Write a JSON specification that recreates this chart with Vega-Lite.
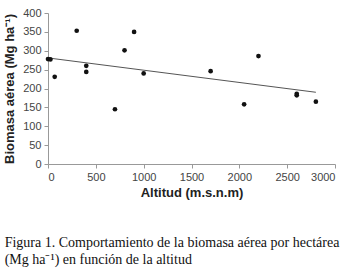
{
  "$schema": "https://vega.github.io/schema/vega-lite/v6.json",
  "autosize": "none",
  "width": 287,
  "height": 151,
  "padding": {"left": 48, "top": 13, "right": 17, "bottom": 109},
  "background": "white",
  "datasets": {
    "pts": [
      {"alt": 0, "bio": 278},
      {"alt": 25, "bio": 277},
      {"alt": 70, "bio": 231},
      {"alt": 300, "bio": 353},
      {"alt": 400, "bio": 260},
      {"alt": 400, "bio": 244},
      {"alt": 700, "bio": 145},
      {"alt": 800, "bio": 301},
      {"alt": 900, "bio": 350},
      {"alt": 1000, "bio": 240},
      {"alt": 1700, "bio": 246},
      {"alt": 2050, "bio": 158},
      {"alt": 2200, "bio": 286},
      {"alt": 2600, "bio": 186},
      {"alt": 2600, "bio": 182},
      {"alt": 2800, "bio": 165}
    ],
    "trend": [
      {"alt": 0, "bio": 281},
      {"alt": 2800, "bio": 190}
    ]
  },
  "title": {
    "text": ["Figura 1. Comportamiento de la biomasa aérea por hectárea", "(Mg ha⁻¹) en función de la altitud"],
    "orient": "bottom",
    "anchor": "start",
    "frame": "bounds",
    "font": "Liberation Serif",
    "fontSize": 14,
    "fontWeight": "normal",
    "color": "#111",
    "lineHeight": 17,
    "offset": 37,
    "dx": 1
  },
  "config": {
    "view": {"stroke": null},
    "axis": {
      "grid": false,
      "domainColor": "#999",
      "tickColor": "#999",
      "tickSize": 4,
      "labelOverlap": false,
      "labelFont": "Liberation Sans",
      "labelFontSize": 11,
      "labelColor": "#444",
      "titleFont": "Liberation Sans",
      "titleFontSize": 13,
      "titleFontWeight": "bold",
      "titleColor": "#222"
    }
  },
  "encoding": {
    "x": {
      "field": "alt", "type": "quantitative",
      "scale": {"domain": [0, 3000], "nice": false},
      "axis": {"values": [0, 500, 1000, 1500, 2000, 2500, 3000], "format": "d", "title": "Altitud (m.s.n.m)", "titlePadding": 4, "labelPadding": 3}
    },
    "y": {
      "field": "bio", "type": "quantitative",
      "scale": {"domain": [0, 400], "nice": false},
      "axis": {"values": [0, 50, 100, 150, 200, 250, 300, 350, 400], "format": "d", "title": "Biomasa aérea (Mg ha⁻¹)", "titlePadding": 6, "labelPadding": 3}
    }
  },
  "layer": [
    {
      "data": {"name": "trend"},
      "mark": {"type": "line", "color": "#555", "strokeWidth": 1}
    },
    {
      "data": {"name": "pts"},
      "mark": {"type": "circle", "color": "#111", "size": 22, "opacity": 1}
    }
  ]
}
